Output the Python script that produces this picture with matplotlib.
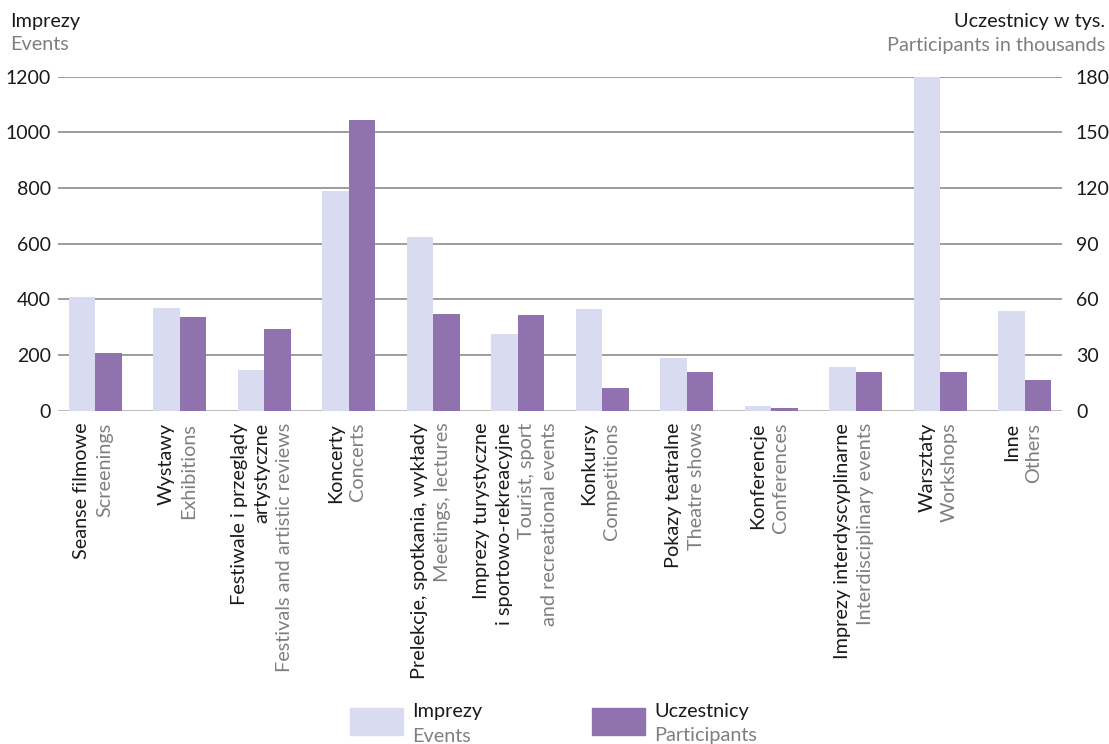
import matplotlib
matplotlib.use("Agg")
import matplotlib.pyplot as plt
import matplotlib.transforms as mtransforms
import numpy as np

# categories: Polish lines, English lines
labels_pl = [
    ["Seanse filmowe"],
    ["Wystawy"],
    ["Festiwale i przeglądy", "artystyczne"],
    ["Koncerty"],
    ["Prelekcje, spotkania, wykłady"],
    ["Imprezy turystyczne", "i sportowo-rekreacyjne"],
    ["Konkursy"],
    ["Pokazy teatralne"],
    ["Konferencje"],
    ["Imprezy interdyscyplinarne"],
    ["Warsztaty"],
    ["Inne"],
]
labels_en = [
    ["Screenings"],
    ["Exhibitions"],
    ["Festivals and artistic reviews"],
    ["Concerts"],
    ["Meetings, lectures"],
    ["Tourist, sport", "and recreational events"],
    ["Competitions"],
    ["Theatre shows"],
    ["Conferences"],
    ["Interdisciplinary events"],
    ["Workshops"],
    ["Others"],
]

events = [409, 369, 146, 789, 624, 276, 365, 189, 17, 157, 1200, 358]
participants = [31.1, 50.5, 44.0, 156.7, 52.1, 51.6, 12.2, 20.9, 1.5, 20.9, 20.9, 16.5]

left_ticks = [0, 200, 400, 600, 800, 1000, 1200]
right_ticks = [0, 30, 60, 90, 120, 150, 180]

C_EVENTS = "#d9dcf0"
C_PART = "#9073ae"
C_GREY = "#7f7f7f"
C_TEXT = "#1a1a1a"
FONT = "Lato"
FS = 14.3

plt.rcParams["font.family"] = [FONT, "DejaVu Sans"]

W, H = 1109, 744
fig = plt.figure(figsize=(W / 100, H / 100), dpi=100)


def fx(px):
    return px / W


def fy(py):
    return 1 - py / H


ax = fig.add_axes([fx(58), fy(410.7), fx(1062) - fx(58), fy(76.7) - fy(410.7)])
ax2 = ax.twinx()

x = np.arange(len(events))
w = 0.315

ax.set_axisbelow(True)
ax.bar(x - w / 2, events, w, color=C_EVENTS, zorder=2)
ax2.bar(x + w / 2, participants, w, color=C_PART, zorder=2)

ax.set_xlim(-0.44, len(events) - 1 + 0.44)
ax.set_ylim(0, 1200)
ax2.set_ylim(0, 180)
ax.set_yticks(left_ticks)
ax2.set_yticks(right_ticks)
ax.set_xticks([])

for t in left_ticks[1:]:
    ax.axhline(t, color="#8c8c8c", lw=1.2, zorder=1)
ax.axhline(0, color="#b5b5b5", lw=2, zorder=1)

for a in (ax, ax2):
    for s in a.spines.values():
        s.set_visible(False)
    a.tick_params(axis="y", length=0, labelsize=14, labelcolor=C_TEXT)
ax.tick_params(axis="y", pad=5)
ax2.tick_params(axis="y", pad=10)

# rotated two-language category labels
base = ax.get_xaxis_transform()
line_gap = 22.5
for i in range(len(events)):
    lines = [(t, C_TEXT) for t in labels_pl[i]] + [(t, C_GREY) for t in labels_en[i]]
    n = len(lines)
    for j, (txt, col) in enumerate(lines):
        dx = (j - (n - 1) / 2) * line_gap - 2
        tr = mtransforms.offset_copy(base, fig=fig, x=dx, y=-12, units="dots")
        ax.text(i, 0, txt, transform=tr, rotation=90, ha="center", va="top",
                fontsize=FS, color=col)

# axis titles
fig.text(fx(10), fy(21), "Imprezy", ha="left", va="center", fontsize=FS, color=C_TEXT)
fig.text(fx(10), fy(45), "Events", ha="left", va="center", fontsize=FS, color=C_GREY)
fig.text(fx(1105), fy(21), "Uczestnicy w tys.", ha="right", va="center", fontsize=FS, color=C_TEXT)
fig.text(fx(1105), fy(45), "Participants in thousands", ha="right", va="center", fontsize=FS, color=C_GREY)

# legend
for (bx, pl, en, col) in [(350, "Imprezy", "Events", C_EVENTS),
                          (592, "Uczestnicy", "Participants", C_PART)]:
    fig.patches.append(plt.Rectangle((fx(bx), fy(735)), fx(53), fy(708) - fy(735),
                                     transform=fig.transFigure, color=col))
    fig.text(fx(bx + 62), fy(712), pl, ha="left", va="center", fontsize=FS, color=C_TEXT)
    fig.text(fx(bx + 62), fy(736), en, ha="left", va="center", fontsize=FS, color=C_GREY)

fig.savefig("out.png", dpi=100)
